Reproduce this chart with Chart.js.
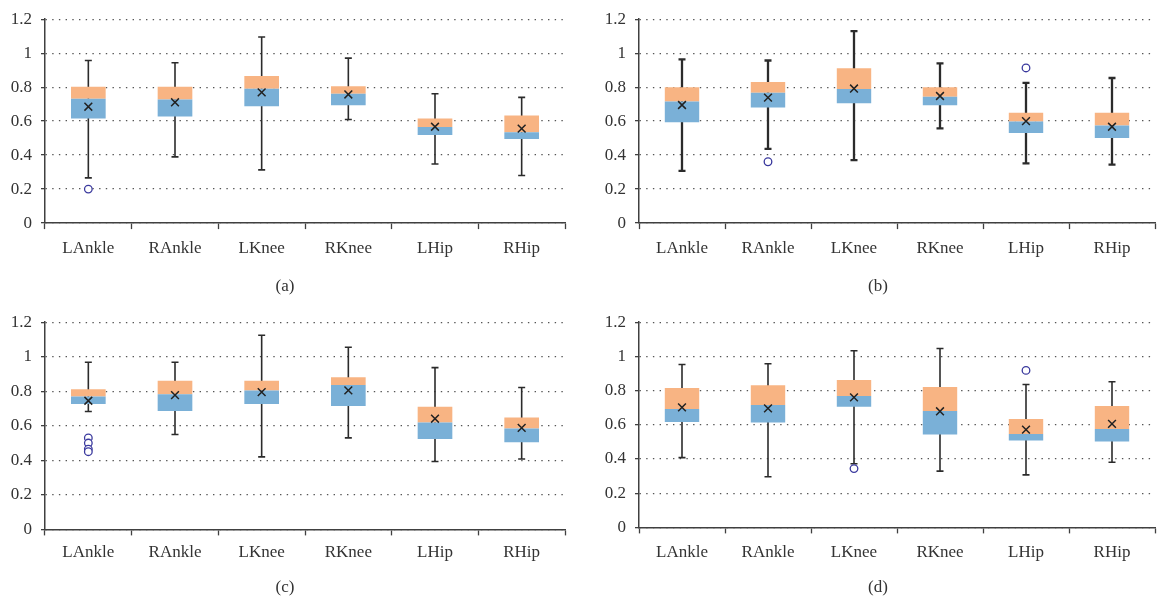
<!DOCTYPE html>
<html>
<head>
<meta charset="utf-8">
<script src="https://cdn.jsdelivr.net/npm/chart.js@4.4.0/dist/chart.umd.min.js"></script>
<style>
  body { margin: 0; background: #fff; }
  #wrap { position: relative; width: 1162px; height: 601px; overflow: hidden; }
  #wrap canvas { position: absolute; }
</style>
</head>
<body>
<div id="wrap">
  <canvas id="chartA" width="572" height="300" style="left:0;top:0"></canvas>
  <canvas id="chartB" width="568" height="300" style="left:594px;top:0"></canvas>
  <canvas id="chartC" width="572" height="298" style="left:0;top:303px"></canvas>
  <canvas id="chartD" width="568" height="298" style="left:594px;top:303px"></canvas>
</div>
<script>
// categories and axis ticks
var joints = ['LAnkle', 'RAnkle', 'LKnee', 'RKnee', 'LHip', 'RHip'];
var yTicks = [0, 0.2, 0.4, 0.6, 0.8, 1, 1.2];

// (a)
var aLow  = [0.266, 0.39, 0.313, 0.61, 0.348, 0.28];
var aQ1   = [0.616, 0.627, 0.687, 0.693, 0.518, 0.495];
var aMed  = [0.732, 0.728, 0.79, 0.761, 0.565, 0.534];
var aQ3   = [0.802, 0.802, 0.866, 0.806, 0.616, 0.633];
var aHigh = [0.957, 0.944, 1.095, 0.971, 0.761, 0.74];
var aMean = [0.685, 0.711, 0.769, 0.757, 0.567, 0.556];
var aOut  = [['LAnkle', 0.2]];

// (b)
var bLow  = [0.307, 0.437, 0.371, 0.557, 0.352, 0.344];
var bQ1   = [0.594, 0.681, 0.705, 0.693, 0.53, 0.501];
var bMed  = [0.715, 0.767, 0.789, 0.744, 0.598, 0.575];
var bQ3   = [0.8, 0.831, 0.911, 0.8, 0.649, 0.649];
var bHigh = [0.963, 0.957, 1.13, 0.94, 0.825, 0.854];
var bMean = [0.695, 0.738, 0.792, 0.748, 0.6, 0.567];
var bOut  = [['RAnkle', 0.361], ['LHip', 0.913]];

// (c)
var cLow  = [0.683, 0.55, 0.42, 0.53, 0.393, 0.408];
var cQ1   = [0.726, 0.685, 0.726, 0.714, 0.523, 0.505];
var cMed  = [0.77, 0.782, 0.805, 0.836, 0.619, 0.584];
var cQ3   = [0.811, 0.861, 0.861, 0.881, 0.71, 0.648];
var cHigh = [0.968, 0.968, 1.124, 1.055, 0.937, 0.822];
var cMean = [0.745, 0.778, 0.795, 0.805, 0.641, 0.588];
var cOut  = [['LAnkle', 0.53], ['LAnkle', 0.5], ['LAnkle', 0.465], ['LAnkle', 0.45]];

// (d)
var dLow  = [0.408, 0.296, 0.372, 0.329, 0.307, 0.381];
var dQ1   = [0.616, 0.613, 0.706, 0.543, 0.508, 0.502];
var dMed  = [0.692, 0.716, 0.768, 0.681, 0.546, 0.576];
var dQ3   = [0.815, 0.832, 0.862, 0.821, 0.634, 0.71];
var dHigh = [0.953, 0.957, 1.033, 1.046, 0.836, 0.852];
var dMean = [0.702, 0.696, 0.76, 0.679, 0.572, 0.605];
var dOut  = [['LKnee', 0.344], ['LHip', 0.918]];

var fontFamily = '"Liberation Serif", "DejaVu Serif", serif';
var textColor = '#333';
var axisColor = '#404040';

function makeChart(id, name, low, q1, med, q3, high, mean, out, opts) {
    // whiskers: one segment per joint, broken by null points
    var whisker = [];
    var lower = [];
    var upper = [];
    for (var i = 0; i < joints.length; i++) {
        whisker.push({ x: joints[i], y: low[i] });
        whisker.push({ x: joints[i], y: high[i] });
        whisker.push({ x: joints[i], y: null });
        lower.push([q1[i], med[i]]);
        upper.push([med[i], q3[i]]);
    }
    var outliers = out.map(function (o) { return { x: o[0], y: o[1] }; });

    var ctx = document.getElementById(id).getContext('2d');
    return new Chart(ctx, {
        type: 'bar',
        data: {
            labels: joints,
            datasets: [{
                type: 'line',
                data: whisker,
                borderColor: '#2b2b2b',
                borderWidth: opts.whisker,
                spanGaps: false,
                pointStyle: 'line',
                pointRadius: 3.5,
                pointBorderWidth: opts.whisker,
                pointBorderColor: '#2b2b2b',
                order: 4
            }, {
                data: lower,
                backgroundColor: '#7AB0D7',
                barPercentage: 0.4,
                categoryPercentage: 1,
                grouped: false,
                order: 3
            }, {
                data: upper,
                backgroundColor: '#F8B483',
                barPercentage: 0.4,
                categoryPercentage: 1,
                grouped: false,
                order: 3
            }, {
                type: 'line',
                data: mean,
                showLine: false,
                pointStyle: 'crossRot',
                pointRadius: 5.5,
                pointBorderWidth: 1.5,
                pointBorderColor: '#222',
                order: 1
            }, {
                type: 'line',
                data: outliers,
                showLine: false,
                pointStyle: 'circle',
                pointRadius: 3.8,
                pointBorderWidth: 1.3,
                pointBorderColor: '#3b3a9e',
                pointBackgroundColor: '#fff',
                order: 0
            }]
        },
        options: {
            responsive: false,
            animation: false,
            layout: { padding: { top: opts.padTop, right: opts.padRight, left: 0, bottom: 0 } },
            plugins: {
                legend: { display: false },
                tooltip: { enabled: false },
                title: {
                    display: true,
                    text: name,
                    position: 'bottom',
                    color: textColor,
                    font: { family: fontFamily, size: 17, weight: 'normal' },
                    padding: { top: opts.titlePad, bottom: 3 }
                }
            },
            scales: {
                x: {
                    offset: true,
                    afterFit: function (s) { s.height = 40; },
                    border: { color: axisColor, width: 1.5 },
                    grid: { offset: true, drawOnChartArea: false, tickLength: 6, tickColor: axisColor, tickWidth: 1.3 },
                    ticks: { color: textColor, padding: opts.labelPad, font: { family: fontFamily, size: 17 } }
                },
                y: {
                    min: 0,
                    max: 1.2,
                    afterFit: function (s) { s.width = 45; },
                    afterBuildTicks: function (s) {
                        s.ticks = yTicks.map(function (v) { return { value: v }; });
                    },
                    border: { color: axisColor, width: 1.5, dash: [1.4, 5.3] },
                    grid: { color: '#555', lineWidth: 1.3, tickLength: 4, tickColor: axisColor, tickWidth: 1.3, tickBorderDash: [] },
                    ticks: {
                        color: textColor,
                        padding: 9,
                        font: { family: fontFamily, size: 17 },
                        callback: function (v) { return String(v); }
                    }
                }
            }
        }
    });
}

makeChart('chartA', '(a)', aLow, aQ1, aMed, aQ3, aHigh, aMean, aOut, { padTop: 16, padRight: 2, titlePad: 13.5, labelPad: 9.5, whisker: 1.6 });
makeChart('chartB', '(b)', bLow, bQ1, bMed, bQ3, bHigh, bMean, bOut, { padTop: 16, padRight: 0, titlePad: 13.5, labelPad: 9.5, whisker: 2.3 });
makeChart('chartC', '(c)', cLow, cQ1, cMed, cQ3, cHigh, cMean, cOut, { padTop: 17, padRight: 2, titlePad: 8.2, labelPad: 6.5, whisker: 1.6 });
makeChart('chartD', '(d)', dLow, dQ1, dMed, dQ3, dHigh, dMean, dOut, { padTop: 16, padRight: 0, titlePad: 10.2, labelPad: 8.5, whisker: 1.6 });
</script>
</body>
</html>
